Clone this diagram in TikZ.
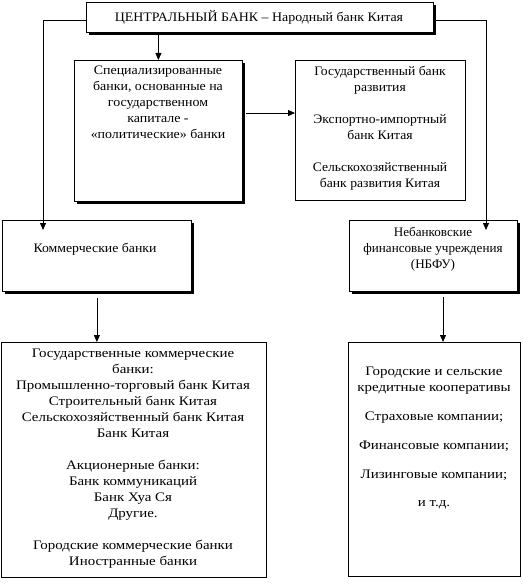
\documentclass[tikz,border=0pt]{standalone}
\usepackage{fontspec}
\setmainfont{Liberation Serif}
\usetikzlibrary{arrows.meta,shadows}
\begin{document}
\begin{tikzpicture}[x=1pt,y=-1pt,
 box/.style={draw,line width=0.8pt,fill=white,inner sep=0pt,anchor=north west},
 shbox/.style={box,drop shadow={fill=black,opacity=1,shadow xshift=3pt,shadow yshift=-3pt}},
 txt/.style={align=center,inner sep=0pt,anchor=north,font=\fontsize{13}{16}\selectfont\addfontfeature{FakeStretch=#1}},
 txt/.default=1.06,
 arr/.style={line width=0.8pt,-{Triangle[width=6pt,length=7pt]}}]
\useasboundingbox (0,0) rectangle (522,586);
% boxes
\node[shbox,minimum width=347pt,minimum height=30pt] (cb) at (86,2) {};
\node[shbox,minimum width=168pt,minimum height=141pt] (spec) at (74,60) {};
\node[box,minimum width=170pt,minimum height=140pt] (gov) at (295,60) {};
\node[shbox,minimum width=189pt,minimum height=71pt] (comm) at (2,220) {};
\node[shbox,minimum width=168pt,minimum height=71pt] (nbfu) at (349,220) {};
\node[box,minimum width=265pt,minimum height=235pt] (bl) at (1,342) {};
\node[box,minimum width=172pt,minimum height=234pt] (br) at (348,342) {};
% texts
\node[txt=1.07] (cbt) at (259,10) {ЦЕНТРАЛЬНЫЙ БАНК – Народный банк Китая};
\node[txt=1.07] (spect) at (158,66) {Специализированные\\банки, основанные на\\государственном\\капитале -\\«политические» банки};
\node[txt=1.05] (govt) at (380,66) {Государственный банк\\развития\\[16pt]Экспортно-импортный\\банк Китая\\[16pt]Сельскохозяйственный\\банк развития Китая};
\node[txt=1.06] (commt) at (95,243) {Коммерческие банки};
\node[txt=1.01] (nbfut) at (433,227) {Небанковские\\финансовые учреждения\\(НБФУ)};
\node[txt=1.15] (blt) at (133,349) {Государственные коммерческие\\банки:\\Промышленно-торговый банк Китая\\Строительный банк Китая\\Сельскохозяйственный банк Китая\\Банк Китая\\[16pt]Акционерные банки:\\Банк коммуникаций\\Банк Хуа Ся\\Другие.\\[16pt]Городские коммерческие банки\\Иностранные банки};
\node[txt=1.15] (brt) at (434,367) {Городские и сельские\\кредитные кооперативы\\[13pt]Страховые компании;\\[13pt]Финансовые компании;\\[13pt]Лизинговые компании;\\[12pt]и т.д.};
% connectors
\coordinate (lend) at (43,230);
\coordinate (rend) at (486,230);
\coordinate (nbs) at (443,297);
\coordinate (nbe) at (443,342);
\draw[arr] ([yshift=-3pt]cb.west) -| (lend);
\draw[arr] ([yshift=-3pt]cb.east) -| (rend);
\draw[arr] (cb.south -| spec.north) -- (spec.north);
\draw[arr] (246,113) -- (gov.west |- 0,113);
\draw[arr] ([yshift=-6pt]comm.south) -- (bl.north -| comm.south);
\draw[arr] (nbs) -- (nbe);
\end{tikzpicture}
\end{document}
